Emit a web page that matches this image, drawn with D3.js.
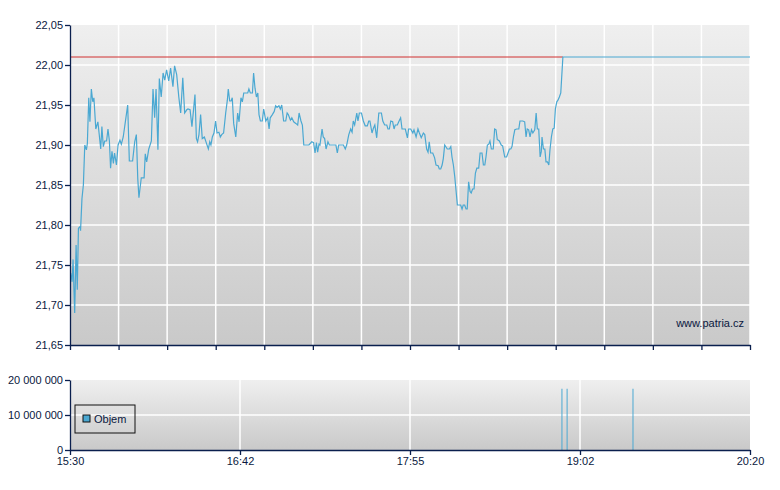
<!DOCTYPE html>
<html>
<head>
<meta charset="utf-8">
<script src="https://cdn.jsdelivr.net/npm/d3@7"></script>
<style>
  body { margin: 0; background: #fff; }
  text { font-family: "Liberation Sans", Arial, sans-serif; font-size: 11px; fill: #0a1840; }
</style>
</head>
<body>
<svg id="chart" width="780" height="490"></svg>
<script>
// minutes since 15:30
const priceTimes = [
  0.3, 0.9, 1.3, 2.0, 2.6, 3.1, 3.6, 4.3, 4.5, 5.1, 5.7, 6.3, 7.0, 7.4, 8.0, 8.5, 9.1, 9.7, 10.2, 11.0,
  11.9, 13.1, 13.6, 14.2, 14.8, 15.6, 16.2, 16.8, 17.3, 17.9, 18.5, 19.0, 19.8, 20.5, 21.3, 21.9, 22.7, 23.6, 24.6, 25.3,
  26.7, 27.6, 28.3, 28.9, 29.4, 30.4, 31.6, 32.1, 32.7, 33.6, 34.7, 35.4, 36.1, 36.7, 37.5, 38.1, 38.9, 39.7, 40.4, 41.2,
  42.1, 42.9, 43.9, 44.6, 45.5, 46.4, 47.2, 48.1, 48.9, 49.8, 50.3, 51.2, 52.0,
  53.3, 53.9, 54.4, 55.0, 55.7, 56.4, 57.3, 58.1, 59.0, 59.6, 60.1, 60.7, 61.4, 62.1, 62.7, 63.5, 64.1, 64.7, 65.5, 66.4,
  67.1, 67.5, 68.1, 68.7, 69.2, 69.8, 70.7, 71.5, 72.1, 72.9, 73.5, 74.1, 74.9, 75.8, 76.3, 76.9, 77.8, 78.3, 78.9, 79.5,
  80.1, 80.6, 81.2, 82.0, 82.6, 83.5, 84.3, 84.9, 85.4, 86.3, 87.1, 87.7, 88.3, 89.1, 89.7, 90.3, 91.1, 92.0, 92.6, 93.1,
  94.0, 94.6, 95.4, 96.3, 97.1, 97.7, 98.5, 99.1, 99.7, 100.8, 101.9, 103.1, 103.9, 104.5, 105.1, 105.6, 106.2, 106.6,
  107.5, 108.0, 108.6, 109.2, 110.0, 110.6, 111.5, 112.3, 113.4, 114.0, 114.6, 115.7, 116.6, 117.4, 118.0, 118.9, 119.7,
  120.3, 120.8, 121.4, 122.3, 122.8, 123.4, 124.3, 125.1, 125.9, 126.8, 127.4, 127.9, 128.8, 129.4, 130.0, 130.8, 131.7,
  132.8, 133.4, 134.2, 135.1, 135.6, 136.2, 136.8, 137.6, 138.2, 138.7, 139.6, 140.2, 141.0, 141.6, 143.0, 143.9, 144.4,
  145.3, 146.2, 146.7, 147.6, 148.4, 149.0, 149.8, 150.7, 151.3, 152.1, 152.7, 153.2, 153.8, 154.7, 155.5, 156.1, 157.0,
  157.5, 158.1, 158.7, 159.2, 159.8, 160.9, 161.8, 162.4, 162.9, 163.5, 164.1, 164.6, 165.2, 165.8, 166.6, 167.2, 167.7,
  168.3, 168.9, 169.4, 170.0, 170.6, 171.1, 171.7, 172.3, 172.9, 173.5, 174.3, 174.9, 175.7, 176.3, 176.9, 177.4, 178.0,
  178.6, 179.1, 179.7, 180.5, 181.1, 181.7, 182.2, 183.1, 183.9, 184.5, 185.4, 186.2, 186.8, 187.4, 188.0, 188.5, 189.1,
  189.7, 190.5, 191.4, 191.9, 193.1, 193.9, 194.5, 195.0, 195.6, 196.2, 196.8, 197.4, 198.2, 198.8, 199.3, 199.9, 200.5,
  201.0, 201.3, 201.9, 202.5, 203.0, 203.6, 204.2, 204.7, 205.3, 205.9, 206.5, 207.0, 207.6, 208.1, 208.7, 209.3, 210.2,
  290
];
const priceValues = [
  21.740, 21.729, 21.757, 21.690, 21.775, 21.719, 21.796, 21.798, 21.793, 21.833, 21.850, 21.900, 21.894, 21.902, 21.959, 21.929, 21.970, 21.954, 21.959, 21.920,
  21.929, 21.895, 21.923, 21.898, 21.905, 21.905, 21.920, 21.905, 21.871, 21.892, 21.877, 21.890, 21.875, 21.900, 21.906, 21.901, 21.910, 21.929, 21.950, 21.880,
  21.880, 21.904, 21.913, 21.858, 21.834, 21.859, 21.859, 21.889, 21.879, 21.895, 21.905, 21.970, 21.934, 21.970, 21.894, 21.983, 21.960, 21.990, 21.981, 21.994,
  21.980, 21.996, 21.973, 21.999, 21.988, 21.960, 21.940, 21.984, 21.940, 21.944, 21.945, 21.944, 21.923,
  21.963, 21.908, 21.904, 21.913, 21.938, 21.908, 21.910, 21.903, 21.895, 21.904, 21.900, 21.910, 21.915, 21.930, 21.915, 21.916, 21.910, 21.913, 21.915, 21.940,
  21.956, 21.970, 21.955, 21.955, 21.959, 21.927, 21.910, 21.940, 21.929, 21.959, 21.954, 21.965, 21.965, 21.965, 21.970, 21.965, 21.965, 21.990, 21.971, 21.960,
  21.965, 21.938, 21.930, 21.930, 21.945, 21.930, 21.934, 21.920, 21.934, 21.938, 21.942, 21.949, 21.947, 21.949, 21.945, 21.950, 21.930, 21.930, 21.940, 21.938,
  21.931, 21.934, 21.929, 21.927, 21.925, 21.940, 21.930, 21.925, 21.900, 21.900, 21.900, 21.904, 21.903, 21.890, 21.903, 21.891, 21.901, 21.900,
  21.920, 21.910, 21.908, 21.895, 21.904, 21.900, 21.900, 21.900, 21.900, 21.890, 21.900, 21.900, 21.900, 21.895, 21.900, 21.913, 21.920,
  21.916, 21.930, 21.925, 21.940, 21.930, 21.940, 21.940, 21.930, 21.924, 21.924, 21.930, 21.930, 21.915, 21.921, 21.925, 21.909, 21.940,
  21.940, 21.930, 21.925, 21.925, 21.920, 21.920, 21.930, 21.929, 21.920, 21.925, 21.925, 21.929, 21.934, 21.920, 21.920, 21.909, 21.920,
  21.920, 21.915, 21.919, 21.910, 21.920, 21.915, 21.909, 21.915, 21.913, 21.895, 21.891, 21.904, 21.890, 21.890, 21.884, 21.875, 21.874,
  21.870, 21.870, 21.875, 21.883, 21.900, 21.895, 21.895, 21.898, 21.885, 21.875, 21.860, 21.844, 21.825, 21.825, 21.825, 21.820, 21.825,
  21.825, 21.820, 21.820, 21.854, 21.842, 21.840, 21.845, 21.845, 21.865, 21.871, 21.871, 21.890, 21.890, 21.875, 21.875, 21.885, 21.900,
  21.901, 21.905, 21.895, 21.895, 21.920, 21.919, 21.907, 21.905, 21.900, 21.899, 21.885, 21.885, 21.890, 21.895, 21.895, 21.898, 21.910,
  21.919, 21.920, 21.920, 21.930, 21.930, 21.929, 21.910, 21.920, 21.919, 21.910, 21.919, 21.915, 21.919, 21.940, 21.920, 21.920, 21.885,
  21.892, 21.910, 21.895, 21.895, 21.879, 21.879, 21.875, 21.894, 21.910, 21.920, 21.921, 21.945, 21.954, 21.956, 21.960, 21.965, 22.010,
  22.010
];
const prevClose = 22.01;
const prevCloseEnd = 210.2;

const volumeTimes = [209.8, 212.0, 240.1];
const volumeValues = [17500000, 17500000, 17500000];

const priceTicks = [21.65, 21.70, 21.75, 21.80, 21.85, 21.90, 21.95, 22.00, 22.05];
const volumeTicks = [0, 10000000, 20000000];
const timeTicks = [0, 72.5, 145, 217.5, 290];
const timeLabels = ['15:30', '16:42', '17:55', '19:02', '20:20'];

const navy = '#0a1f4e';
const lineBlue = '#4aa8d2';
const svg = d3.select('#chart');

const left = 70, right = 750;
const main = { top: 25, bottom: 345 };
const vol = { top: 380, bottom: 450 };

const x = d3.scaleLinear().domain([0, 290]).range([left, right]);
const y = d3.scaleLinear().domain([21.65, 22.05]).range([main.bottom, main.top]);
const yv = d3.scaleLinear().domain([0, 20000000]).range([vol.bottom, vol.top]);

const defs = svg.append('defs');
const grad = defs.append('linearGradient').attr('id', 'bg').attr('x1', 0).attr('x2', 0).attr('y1', 0).attr('y2', 1);
grad.append('stop').attr('offset', 0).attr('stop-color', '#efefef');
grad.append('stop').attr('offset', 1).attr('stop-color', '#c9c9c9');

// backgrounds
svg.append('rect').attr('x', left).attr('y', main.top)
  .attr('width', right - left).attr('height', main.bottom - main.top).attr('fill', 'url(#bg)');
svg.append('rect').attr('x', left).attr('y', vol.top)
  .attr('width', right - left).attr('height', vol.bottom - vol.top).attr('fill', 'url(#bg)');

// main grid
const minorTicks = d3.range(0, 15).map(i => i * 290 / 14);
svg.append('g').selectAll('line').data(minorTicks.slice(1)).join('line')
  .attr('x1', d => x(d)).attr('x2', d => x(d)).attr('y1', main.top).attr('y2', main.bottom)
  .attr('stroke', '#fff').attr('stroke-width', 1.5);
svg.append('g').selectAll('line').data(priceTicks.slice(1, -1)).join('line')
  .attr('x1', left).attr('x2', right).attr('y1', d => y(d)).attr('y2', d => y(d))
  .attr('stroke', '#fff').attr('stroke-width', 1.5);

// volume grid
svg.append('g').selectAll('line').data(timeTicks.slice(1, -1)).join('line')
  .attr('x1', d => x(d)).attr('x2', d => x(d)).attr('y1', vol.top).attr('y2', vol.bottom)
  .attr('stroke', '#fff').attr('stroke-width', 1.5);
svg.append('line').attr('x1', left).attr('x2', right)
  .attr('y1', yv(10000000)).attr('y2', yv(10000000)).attr('stroke', '#fff').attr('stroke-width', 1.5);

// previous close
svg.append('line').attr('x1', x(0)).attr('x2', x(prevCloseEnd))
  .attr('y1', y(prevClose)).attr('y2', y(prevClose)).attr('stroke', '#d03030').attr('stroke-width', 1);

// price line
const pts = priceTimes.map((t, i) => [t, priceValues[i]]);
svg.append('path').datum(pts)
  .attr('d', d3.line().x(d => x(d[0])).y(d => y(d[1])))
  .attr('fill', 'none').attr('stroke', lineBlue).attr('stroke-width', 1.2);

// volume bars
svg.append('g').selectAll('line').data(volumeTimes).join('line')
  .attr('x1', d => x(d)).attr('x2', d => x(d))
  .attr('y1', vol.bottom).attr('y2', (d, i) => yv(volumeValues[i]))
  .attr('stroke', lineBlue).attr('stroke-width', 1);

// axes
const fmtVol = v => d3.format(',')(v).replace(/,/g, ' ');
const yAxis = svg.append('g').attr('transform', `translate(${left},0)`)
  .call(d3.axisLeft(y).tickValues(priceTicks).tickFormat(d => d3.format('.2f')(d).replace('.', ',')).tickSize(5).tickSizeOuter(0));
const xMain = svg.append('g').attr('transform', `translate(0,${main.bottom})`)
  .call(d3.axisBottom(x).tickValues(minorTicks).tickFormat('').tickSize(5).tickSizeOuter(0));
const yvAxis = svg.append('g').attr('transform', `translate(${left},0)`)
  .call(d3.axisLeft(yv).tickValues(volumeTicks).tickFormat(fmtVol).tickSize(5).tickSizeOuter(0));
const xVol = svg.append('g').attr('transform', `translate(0,${vol.bottom})`)
  .call(d3.axisBottom(x).tickValues(timeTicks).tickFormat((d, i) => timeLabels[i]).tickSize(5).tickSizeOuter(0));

[yAxis, xMain, yvAxis, xVol].forEach(g => {
  g.selectAll('path,line').attr('stroke', navy).attr('stroke-width', 1.3);
  g.selectAll('text').attr('fill', navy).style('font-size', '11px')
    .style('font-family', '"Liberation Sans", Arial, sans-serif');
});
yAxis.selectAll('text').attr('x', -7);
yvAxis.selectAll('text').attr('x', -7);
xVol.selectAll('text').attr('y', 7);

// watermark
svg.append('text').attr('x', 744).attr('y', 327).attr('text-anchor', 'end')
  .style('font-size', '11px').attr('fill', navy).text('www.patria.cz');

// legend
const lg = svg.append('g').attr('transform', 'translate(75,405)');
lg.append('rect').attr('width', 60).attr('height', 28).attr('fill', 'none').attr('stroke', '#111');
lg.append('rect').attr('x', 8).attr('y', 10).attr('width', 7).attr('height', 7)
  .attr('fill', lineBlue).attr('stroke', '#111');
lg.append('text').attr('x', 19).attr('y', 18).style('font-size', '11px').attr('fill', '#111').text('Objem');
</script>
</body>
</html>
